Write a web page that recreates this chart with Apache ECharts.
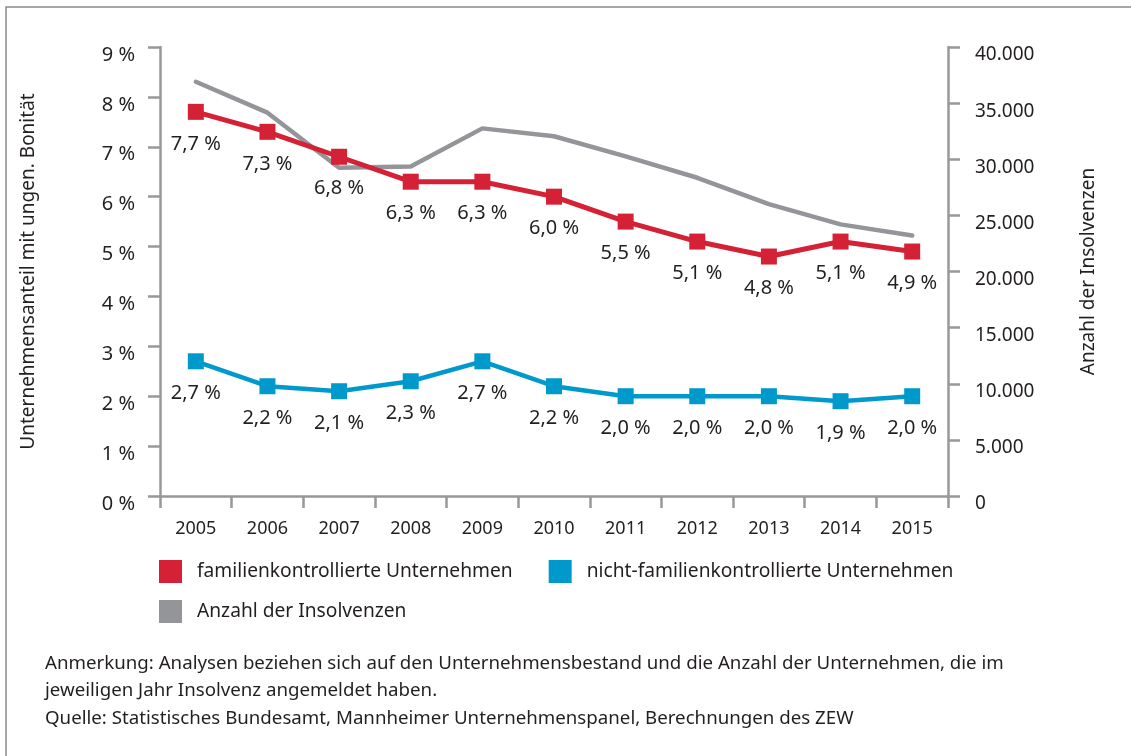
<!DOCTYPE html>
<html>
<head>
<meta charset="utf-8">
<script src="https://cdn.jsdelivr.net/npm/echarts@6/dist/echarts.min.js"></script>
<style>
html,body{margin:0;padding:0;background:#fff;}
#chart{width:1131px;height:756px;}
</style>
</head>
<body>
<div id="chart"></div>
<script>
const years = ['2005','2006','2007','2008','2009','2010','2011','2012','2013','2014','2015'];
const familien = [7.7, 7.3, 6.8, 6.3, 6.3, 6.0, 5.5, 5.1, 4.8, 5.1, 4.9];
const nichtFamilien = [2.7, 2.2, 2.1, 2.3, 2.7, 2.2, 2.0, 2.0, 2.0, 1.9, 2.0];
const insolvenzen = [36900, 34150, 29250, 29350, 32750, 32050, 30250, 28350, 26000, 24200, 23200];
const seriesNames = ['familienkontrollierte Unternehmen', 'nicht-familienkontrollierte Unternehmen', 'Anzahl der Insolvenzen'];
const leftAxisName = 'Unternehmensanteil mit ungen. Bonität';
const rightAxisName = 'Anzahl der Insolvenzen';
const footerLines = [
  'Anmerkung: Analysen beziehen sich auf den Unternehmensbestand und die Anzahl der Unternehmen, die im',
  'jeweiligen Jahr Insolvenz angemeldet haben.',
  'Quelle: Statistisches Bundesamt, Mannheimer Unternehmenspanel, Berechnungen des ZEW'
];

const FONT = '"Noto Sans", "Open Sans", sans-serif';
const TXT = '#231f20';
const AX = '#98989b';
const RED = '#d42135';
const BLUE = '#0099cc';
const GRAY = '#939598';

const pct = v => v.toFixed(1).replace('.', ',') + ' %';
const thousands = v => String(v).replace(/\B(?=(\d{3})+(?!\d))/g, '.');

const chart = echarts.init(document.getElementById('chart'), null, {renderer: 'canvas'});
const axisCommon = {
  axisLine: {show: true, lineStyle: {color: AX, width: 2.5}},
  axisTick: {show: true, length: 12, lineStyle: {color: AX, width: 2.5}},
  splitLine: {show: false}
};
chart.setOption({
  animation: false,
  textStyle: {fontFamily: FONT},
  grid: {left: 160, right: 183, top: 47, bottom: 260, containLabel: false},
  legend: [
    {
      data: [seriesNames[0], seriesNames[1]],
      left: 159, top: 560, orient: 'horizontal', padding: 0,
      itemWidth: 23, itemHeight: 23, itemGap: 36, icon: 'rect',
      textStyle: {fontFamily: FONT, fontSize: 19.2, color: TXT, padding: [0, 0, 0, 10]}
    },
    {
      data: [seriesNames[2]],
      left: 159, top: 600, orient: 'horizontal', padding: 0,
      itemWidth: 23, itemHeight: 23, icon: 'rect',
      textStyle: {fontFamily: FONT, fontSize: 19.2, color: TXT, padding: [0, 0, 0, 10]}
    }
  ],
  xAxis: Object.assign({}, axisCommon, {
    type: 'category', data: years, boundaryGap: true,
    axisTick: {show: true, length: 12, alignWithLabel: false, interval: 0, lineStyle: {color: AX, width: 2.5}},
    axisLabel: {color: TXT, fontSize: 18, margin: 24, fontFamily: FONT, interval: 0}
  }),
  yAxis: [
    Object.assign({}, axisCommon, {
      type: 'value', min: 0, max: 9, interval: 1, position: 'left',
      name: leftAxisName, nameLocation: 'middle', nameGap: 122,
      nameTextStyle: {color: TXT, fontSize: 19, fontFamily: FONT},
      axisLabel: {color: TXT, fontSize: 20, margin: 25, fontFamily: FONT, verticalAlign: 'top', lineHeight: 16, formatter: v => v + ' %'}
    }),
    Object.assign({}, axisCommon, {
      type: 'value', min: 0, max: 40000, interval: 5000, position: 'right',
      name: rightAxisName, nameLocation: 'middle', nameGap: 131, nameRotate: 90,
      nameTextStyle: {color: TXT, fontSize: 19, fontFamily: FONT},
      axisLabel: {color: TXT, fontSize: 19, margin: 27, fontFamily: FONT, verticalAlign: 'top', lineHeight: 16, formatter: v => thousands(v)}
    })
  ],
  series: [
    {
      name: seriesNames[2], type: 'line', yAxisIndex: 1, data: insolvenzen,
      color: GRAY, showSymbol: false, symbol: 'none',
      lineStyle: {color: GRAY, width: 4.5, cap: 'round', join: 'round'},
      z: 1
    },
    {
      name: seriesNames[0], type: 'line', yAxisIndex: 0, data: familien,
      color: RED, symbol: 'rect', symbolSize: 16,
      itemStyle: {color: RED},
      lineStyle: {color: RED, width: 5},
      label: {show: true, position: 'bottom', distance: 14, color: TXT, fontSize: 20, fontFamily: FONT, formatter: p => pct(p.value)},
      z: 3
    },
    {
      name: seriesNames[1], type: 'line', yAxisIndex: 0, data: nichtFamilien,
      color: BLUE, symbol: 'rect', symbolSize: 16,
      itemStyle: {color: BLUE},
      lineStyle: {color: BLUE, width: 4.5},
      label: {show: true, position: 'bottom', distance: 14, color: TXT, fontSize: 20, fontFamily: FONT, formatter: p => pct(p.value)},
      z: 3
    }
  ],
  graphic: [
    {type: 'polyline', shape: {points: [[6, 756], [6, 7], [1131, 7]]}, style: {stroke: '#8a8a8d', lineWidth: 1.5, fill: null}, silent: true},
    {type: 'text', left: 45, top: 654, style: {text: footerLines[0], fontFamily: FONT, fontSize: 18.7, fill: TXT}},
    {type: 'text', left: 45, top: 681, style: {text: footerLines[1], fontFamily: FONT, fontSize: 18.7, fill: TXT}},
    {type: 'text', left: 45, top: 709, style: {text: footerLines[2], fontFamily: FONT, fontSize: 18.7, fill: TXT}}
  ]
});
</script>
</body>
</html>
